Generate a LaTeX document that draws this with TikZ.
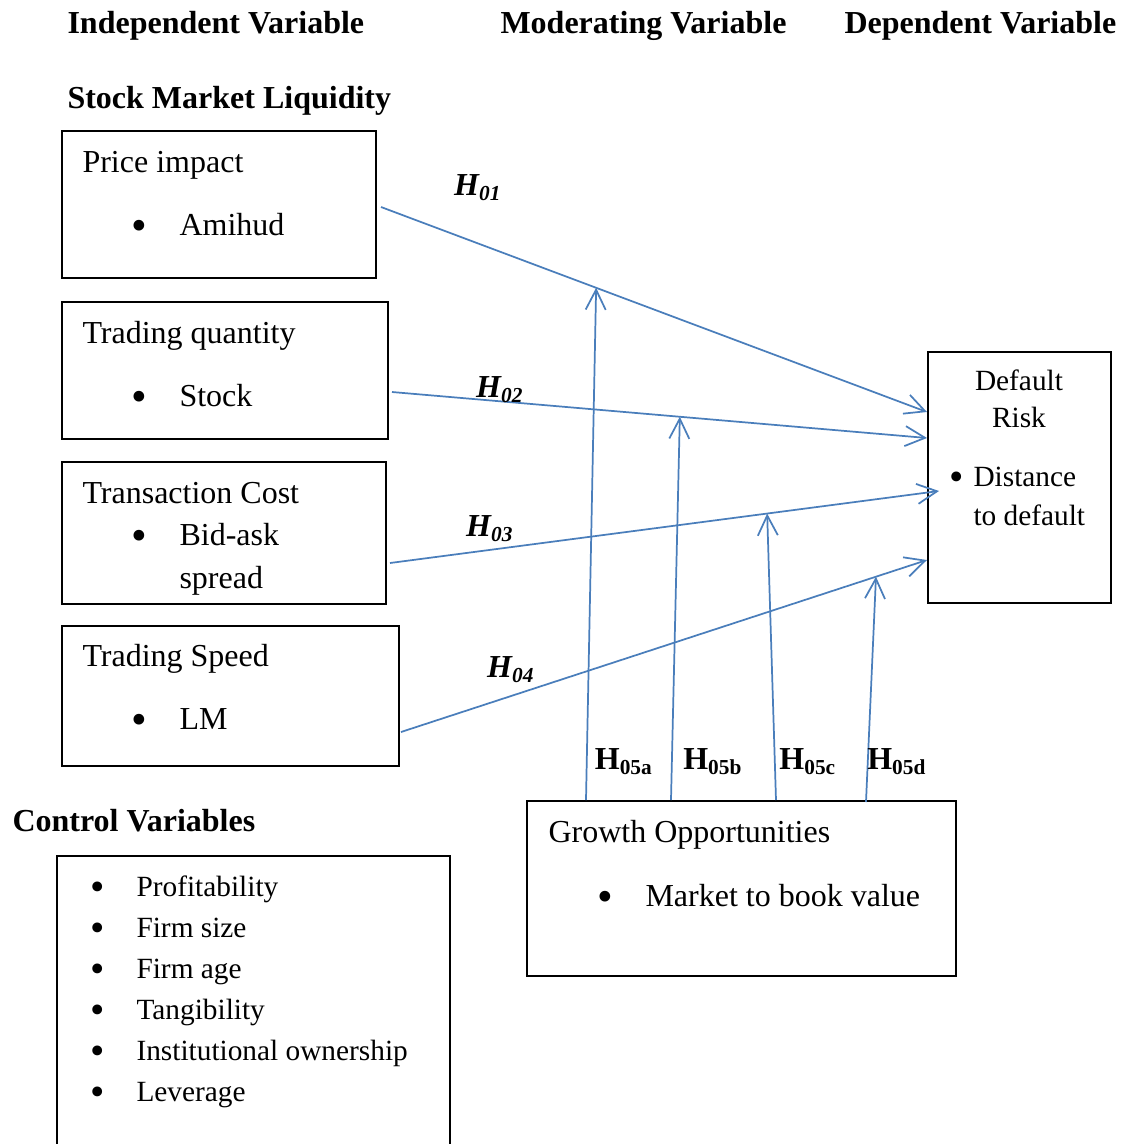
\documentclass[tikz,border=0pt]{standalone}
\usepackage{fontspec}
\usepackage{graphicx}
\setmainfont{Liberation Serif}
\usetikzlibrary{positioning, calc, arrows.meta}

\definecolor{linkblue}{HTML}{4A7EBB}
\newcommand{\bulitem}[2]{\makebox[#1][l]{\raisebox{-0.35ex}{\scalebox{1.4}{\textbullet}}}#2}

\begin{document}
\begin{tikzpicture}[
    x=0.375pt, y=-0.375pt,
    box/.style={draw, line width=0.75pt, inner sep=0pt},
    txt/.style={anchor=base west, inner sep=0pt, font=\fontsize{12}{14}\selectfont},
    small/.style={anchor=base west, inner sep=0pt, font=\fontsize{11}{13}\selectfont},
    head/.style={anchor=base west, inner sep=0pt, font=\fontsize{12}{14}\selectfont\bfseries},
    hyp/.style={inner sep=0pt, font=\fontsize{12}{14}\selectfont\bfseries\itshape},
    hmod/.style={inner sep=0pt, font=\fontsize{12}{14}\selectfont\bfseries},
    arr/.style={draw=linkblue, line width=0.65pt, -{Straight Barb[length=7.5pt, width=7.5pt]}},
]
    \clip (0,0) rectangle (1130,1144);

    % headings
    \node[head] (hind) at (67,33) {Independent Variable};
    \node[head] (hmodv) at (500,33) {Moderating Variable};
    \node[head] (hdep) at (844,33) {Dependent Variable};
    \node[head] (hsml) at (67,108) {Stock Market Liquidity};
    \node[head] (hctrl) at (12,831) {Control Variables};

    % boxes
    \node[box, minimum width=117.75pt, minimum height=55.125pt] (price) at (219,204.5) {};
    \node[box, minimum width=122.25pt, minimum height=51.375pt] (qty) at (225,370.5) {};
    \node[box, minimum width=121.5pt, minimum height=53.25pt] (cost) at (224,533) {};
    \node[box, minimum width=126.375pt, minimum height=52.5pt] (speed) at (230.5,696) {};
    \node[box, minimum width=68.625pt, minimum height=94.125pt] (risk) at (1019.5,477.5) {};
    \node[box, minimum width=160.875pt, minimum height=65.625pt] (growth) at (741.5,888.5) {};
    \node[box, minimum width=147.375pt, minimum height=114pt] (ctrl) at (253.5,1008) {};

    % box texts
    \node[txt] (tprice) at (82,172) {Price impact};
    \node[txt] (bprice) at (131,235) {\bulitem{18pt}{Amihud}};
    \node[txt] (tqty) at (82,343) {Trading quantity};
    \node[txt] (bqty) at (131,406) {\bulitem{18pt}{Stock}};
    \node[txt] (tcost) at (82,503) {Transaction Cost};
    \node[txt] (bcost) at (131,545) {\bulitem{18pt}{Bid-ask}};
    \node[txt] (bcost2) at (179,588) {spread};
    \node[txt] (tspeed) at (82,666) {Trading Speed};
    \node[txt] (bspeed) at (131,729) {\bulitem{18pt}{LM}};

    \node[small, anchor=base] (trisk) at (1019,390) {Default};
    \node[small, anchor=base] (trisk2) at (1019,427) {Risk};
    \node[small] (brisk) at (949,486) {\bulitem{9pt}{Distance}};
    \node[small] (brisk2) at (973,525) {to default};

    \node[txt] (tgrowth) at (548,842) {Growth Opportunities};
    \node[txt] (bgrowth) at (597,906) {\bulitem{18pt}{Market to book value}};

    \node[small] (c1) at (90,896) {\bulitem{17.25pt}{Profitability}};
    \node[small] (c2) at (90,937) {\bulitem{17.25pt}{Firm size}};
    \node[small] (c3) at (90,978) {\bulitem{17.25pt}{Firm age}};
    \node[small] (c4) at (90,1019) {\bulitem{17.25pt}{Tangibility}};
    \node[small] (c5) at (90,1060) {\bulitem{17.25pt}{Institutional ownership}};
    \node[small] (c6) at (90,1101) {\bulitem{17.25pt}{Leverage}};

    % direct effects
    \draw[arr] ($(price.east)+(4,2.5)$) -- coordinate[pos=0.394] (m1) ($(risk.west)+(0,-65.5)$);
    \draw[arr] ($(qty.east)+(3,21.5)$) -- coordinate[pos=0.538] (m2) ($(risk.west)+(0,-39.5)$);
    \draw[arr] ($(cost.east)+(3,30)$) -- coordinate[pos=0.687] (m3) ($(risk.west)+(12,13.5)$);
    \draw[arr] ($(speed.east)+(1,36)$) -- coordinate[pos=0.903] (m4) ($(risk.west)+(0,82.5)$);

    \node[hyp] (h1) at (478,188) {H\textsubscript{01}};
    \node[hyp] (h2) at (500,390) {H\textsubscript{02}};
    \node[hyp] (h3) at (490,529) {H\textsubscript{03}};
    \node[hyp] (h4) at (511,670) {H\textsubscript{04}};

    % moderating effects
    \draw[arr] ($(growth.north)+(-155.5,0)$) -- (m1);
    \draw[arr] ($(growth.north)+(-70.5,0)$) -- (m2);
    \draw[arr] ($(growth.north)+(34.5,0)$) -- (m3);
    \draw[arr] ($(growth.north)+(124.5,2)$) -- (m4);

    \node[hmod] (h5a) at (624,762) {H\textsubscript{05a}};
    \node[hmod] (h5b) at (713,762) {H\textsubscript{05b}};
    \node[hmod] (h5c) at (808,762) {H\textsubscript{05c}};
    \node[hmod] (h5d) at (897,762) {H\textsubscript{05d}};

\end{tikzpicture}
\end{document}
